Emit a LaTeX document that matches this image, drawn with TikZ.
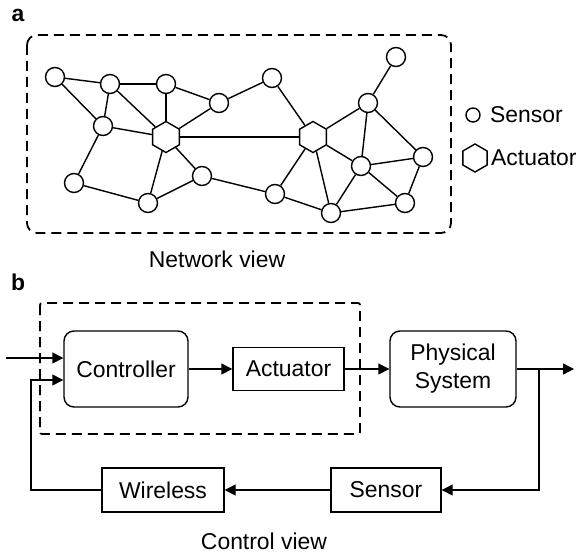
\documentclass[tikz,border=0pt]{standalone}
\usepackage{fontspec}
\setmainfont{Liberation Sans}
\usetikzlibrary{arrows.meta,shapes.geometric}
\begin{document}
\begin{tikzpicture}[x=1bp,y=-1bp,
  every node/.style={font=\fontsize{23}{28}\selectfont},
  sens/.style={circle,draw,fill=white,line width=1.4bp,minimum size=19bp,inner sep=0},
  actr/.style={regular polygon,regular polygon sides=6,shape border rotate=30,draw,fill=white,line width=1.4bp,minimum size=31bp,inner sep=0},
  edge/.style={line width=1.4bp},
  arr/.style={line width=1.4bp,-{Triangle[length=11bp,width=11bp]}},
  blk/.style={draw,line width=1.4bp,align=center,inner sep=0},
  dbox/.style={draw,line width=1.8bp,dash pattern=on 10bp off 6bp},
  lbl/.style={font=\fontsize{23}{26}\selectfont\bfseries}
]
\useasboundingbox (0,0) rectangle (578,556);

% ---------- part a ----------
\node[lbl] (la) at (18,15) {a};
\draw[dbox,rounded corners=10bp] (27,35) rectangle (451,233);

\node[sens] (n1) at (55,77) {};
\node[sens] (n2) at (110,84) {};
\node[sens] (n3) at (166,84) {};
\node[sens] (n4) at (219,103) {};
\node[sens] (n5) at (103,126) {};
\node[actr] (h1) at (166,137) {};
\node[sens] (n6) at (74,183) {};
\node[sens] (n7) at (148,203) {};
\node[sens] (n8) at (202,176) {};
\node[sens] (n9) at (272,78) {};
\node[sens] (n10) at (396,57) {};
\node[sens] (n11) at (368,103) {};
\node[actr] (h2) at (313,137) {};
\node[sens] (n12) at (361,166) {};
\node[sens] (n13) at (423,157) {};
\node[sens] (n14) at (275,194) {};
\node[sens] (n15) at (331,213) {};
\node[sens] (n16) at (405,203) {};

\foreach \a/\b in {n1/n2,n1/n5,n2/n3,n2/n5,n2/h1,n3/h1,n3/n4,n4/h1,n5/h1,n5/n6,
  h1/n7,h1/n8,h1/h2,n6/n7,n7/n8,n8/n14,n4/n9,n9/h2,h2/n11,h2/n12,h2/n14,h2/n15,
  n10/n11,n11/n12,n11/n13,n12/n13,n12/n15,n12/n16,n13/n16,n14/n15,n15/n16}
  \draw[edge] (\a) -- (\b);

% legend
\node[sens,minimum size=14bp] (ls) at (473,115) {};
\node[anchor=base west,inner sep=0] (lst) at (490,123) {Sensor};
\node[actr,minimum size=28bp] (lh) at (475,158) {};
\node[anchor=base west,inner sep=0] (lht) at (491,166) {Actuator};

\node[anchor=base,inner sep=0] (nv) at (217,267) {Network view};

% ---------- part b ----------
\node[lbl] (lb) at (18,282) {b};
\draw[dbox,rounded corners=2bp] (40,303) rectangle (360,434);

\node[blk,rounded corners=10bp,minimum width=124bp,minimum height=76bp] (ctrl) at (126,369) {Controller};
\node[blk,minimum width=111bp,minimum height=43bp] (act) at (288.5,369) {Actuator};
\node[blk,rounded corners=10bp,minimum width=126bp,minimum height=76bp] (phys) at (453,369) {Physical\\System};
\node[blk,minimum width=122bp,minimum height=44bp] (wl) at (163,490) {Wireless};
\node[blk,minimum width=110bp,minimum height=44bp] (sn) at (386,490) {Sensor};

\coordinate (in1) at (6,358);
\coordinate (fb) at (31,380);
\coordinate (br) at (539,369);
\coordinate (out) at (574,369);

\draw[arr] (in1) -- (in1 -| ctrl.west);
\draw[arr] (wl.west) -| (fb) -- (fb -| ctrl.west);
\draw[arr] (ctrl.east) -- (act.west);
\draw[arr] (act.east) -- (phys.west);
\draw[arr] (phys.east) -- (out);
\draw[arr] (br) |- (sn.east);
\draw[arr] (sn.west) -- (wl.east);

\node[anchor=base,inner sep=0] (cv) at (264,549) {Control view};
\end{tikzpicture}
\end{document}
